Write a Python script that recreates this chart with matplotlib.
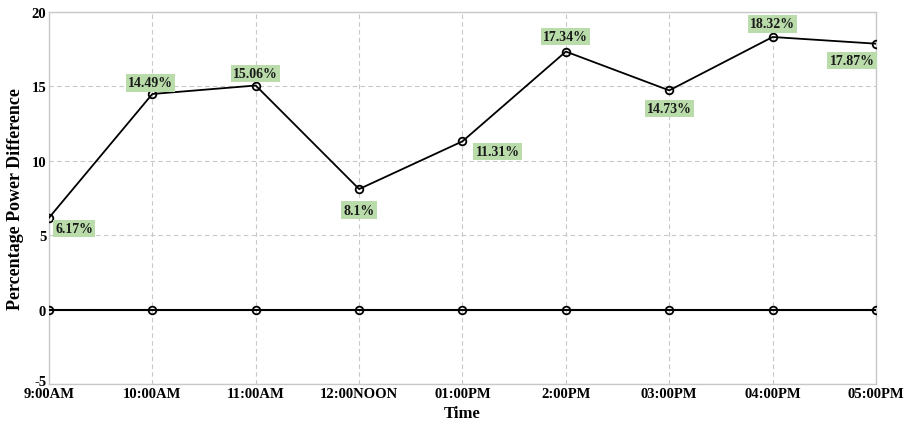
import matplotlib
matplotlib.use("Agg")
import matplotlib.pyplot as plt
import matplotlib.transforms as mtransforms

times = ["9:00AM", "10:00AM", "11:00AM", "12:00NOON", "01:00PM", "2:00PM", "03:00PM", "04:00PM", "05:00PM"]
power_diff = [6.17, 14.49, 15.06, 8.1, 11.31, 17.34, 14.73, 18.32, 17.87]
baseline = [0, 0, 0, 0, 0, 0, 0, 0, 0]
labels = ["6.17%", "14.49%", "15.06%", "8.1%", "11.31%", "17.34%", "14.73%", "18.32%", "17.87%"]
# label offsets in pixels (dx, dy down positive)
offsets_px = [(25, 11), (-2, -11), (0, -12), (0, 21), (35, 10), (0, -15), (0, 18), (0, -13), (-24, 17)]

plt.rcParams['font.family'] = ['Liberation Serif', 'DejaVu Serif']
plt.rcParams['font.weight'] = 'bold'
plt.rcParams['axes.unicode_minus'] = False

fig = plt.figure(figsize=(9.17, 4.39), dpi=100)
ax = fig.add_axes([0.0534, 0.123, 0.9019, 0.8474])
x = list(range(len(times)))

ax.plot(x, baseline, color='black', lw=1.5, marker='o', ms=5.5, mfc='none', mec='black', mew=1.3, zorder=3)
ax.plot(x, power_diff, color='black', lw=1.3, marker='o', ms=5.5, mfc='none', mec='black', mew=1.3, zorder=3)

for xi, yi, lab, (dx, dy) in zip(x, power_diff, labels, offsets_px):
    ax.annotate(lab, (xi, yi), xytext=(dx * 0.72, -dy * 0.72), textcoords='offset points',
                ha='center', va='center', fontsize=10, fontweight='bold', color='#1a1a1a',
                bbox=dict(boxstyle='square,pad=0.15', fc='#b9dcaa', ec='none'), zorder=4)

ax.set_xlim(0, len(times) - 1)
ax.set_ylim(-5, 20)
ax.set_yticks([-5, 0, 5, 10, 15, 20])
ax.set_xticks(x)
ax.set_xticklabels(times)
ax.tick_params(length=0, labelsize=10.5, pad=2)
for lab in ax.get_xticklabels() + ax.get_yticklabels():
    lab.set_fontweight('bold')
ax.grid(True, color='#c8c8c8', linestyle=(0, (4, 3)), lw=0.8)
for s in ax.spines.values():
    s.set_color('#c8c8c8')
    s.set_linewidth(1.0)
ax.set_xlabel('Time', fontsize=12, fontweight='bold', labelpad=4)
ax.set_ylabel('Percentage Power Difference', fontsize=13, fontweight='bold', labelpad=5)

# nudge the bottom y tick label up slightly so it sits above the first x label
ylab0 = ax.yaxis.get_major_ticks()[0].label1
ylab0.set_transform(ylab0.get_transform() + mtransforms.ScaledTranslation(0, 3 / 72, fig.dpi_scale_trans))

fig.savefig('out.png', dpi=100)
